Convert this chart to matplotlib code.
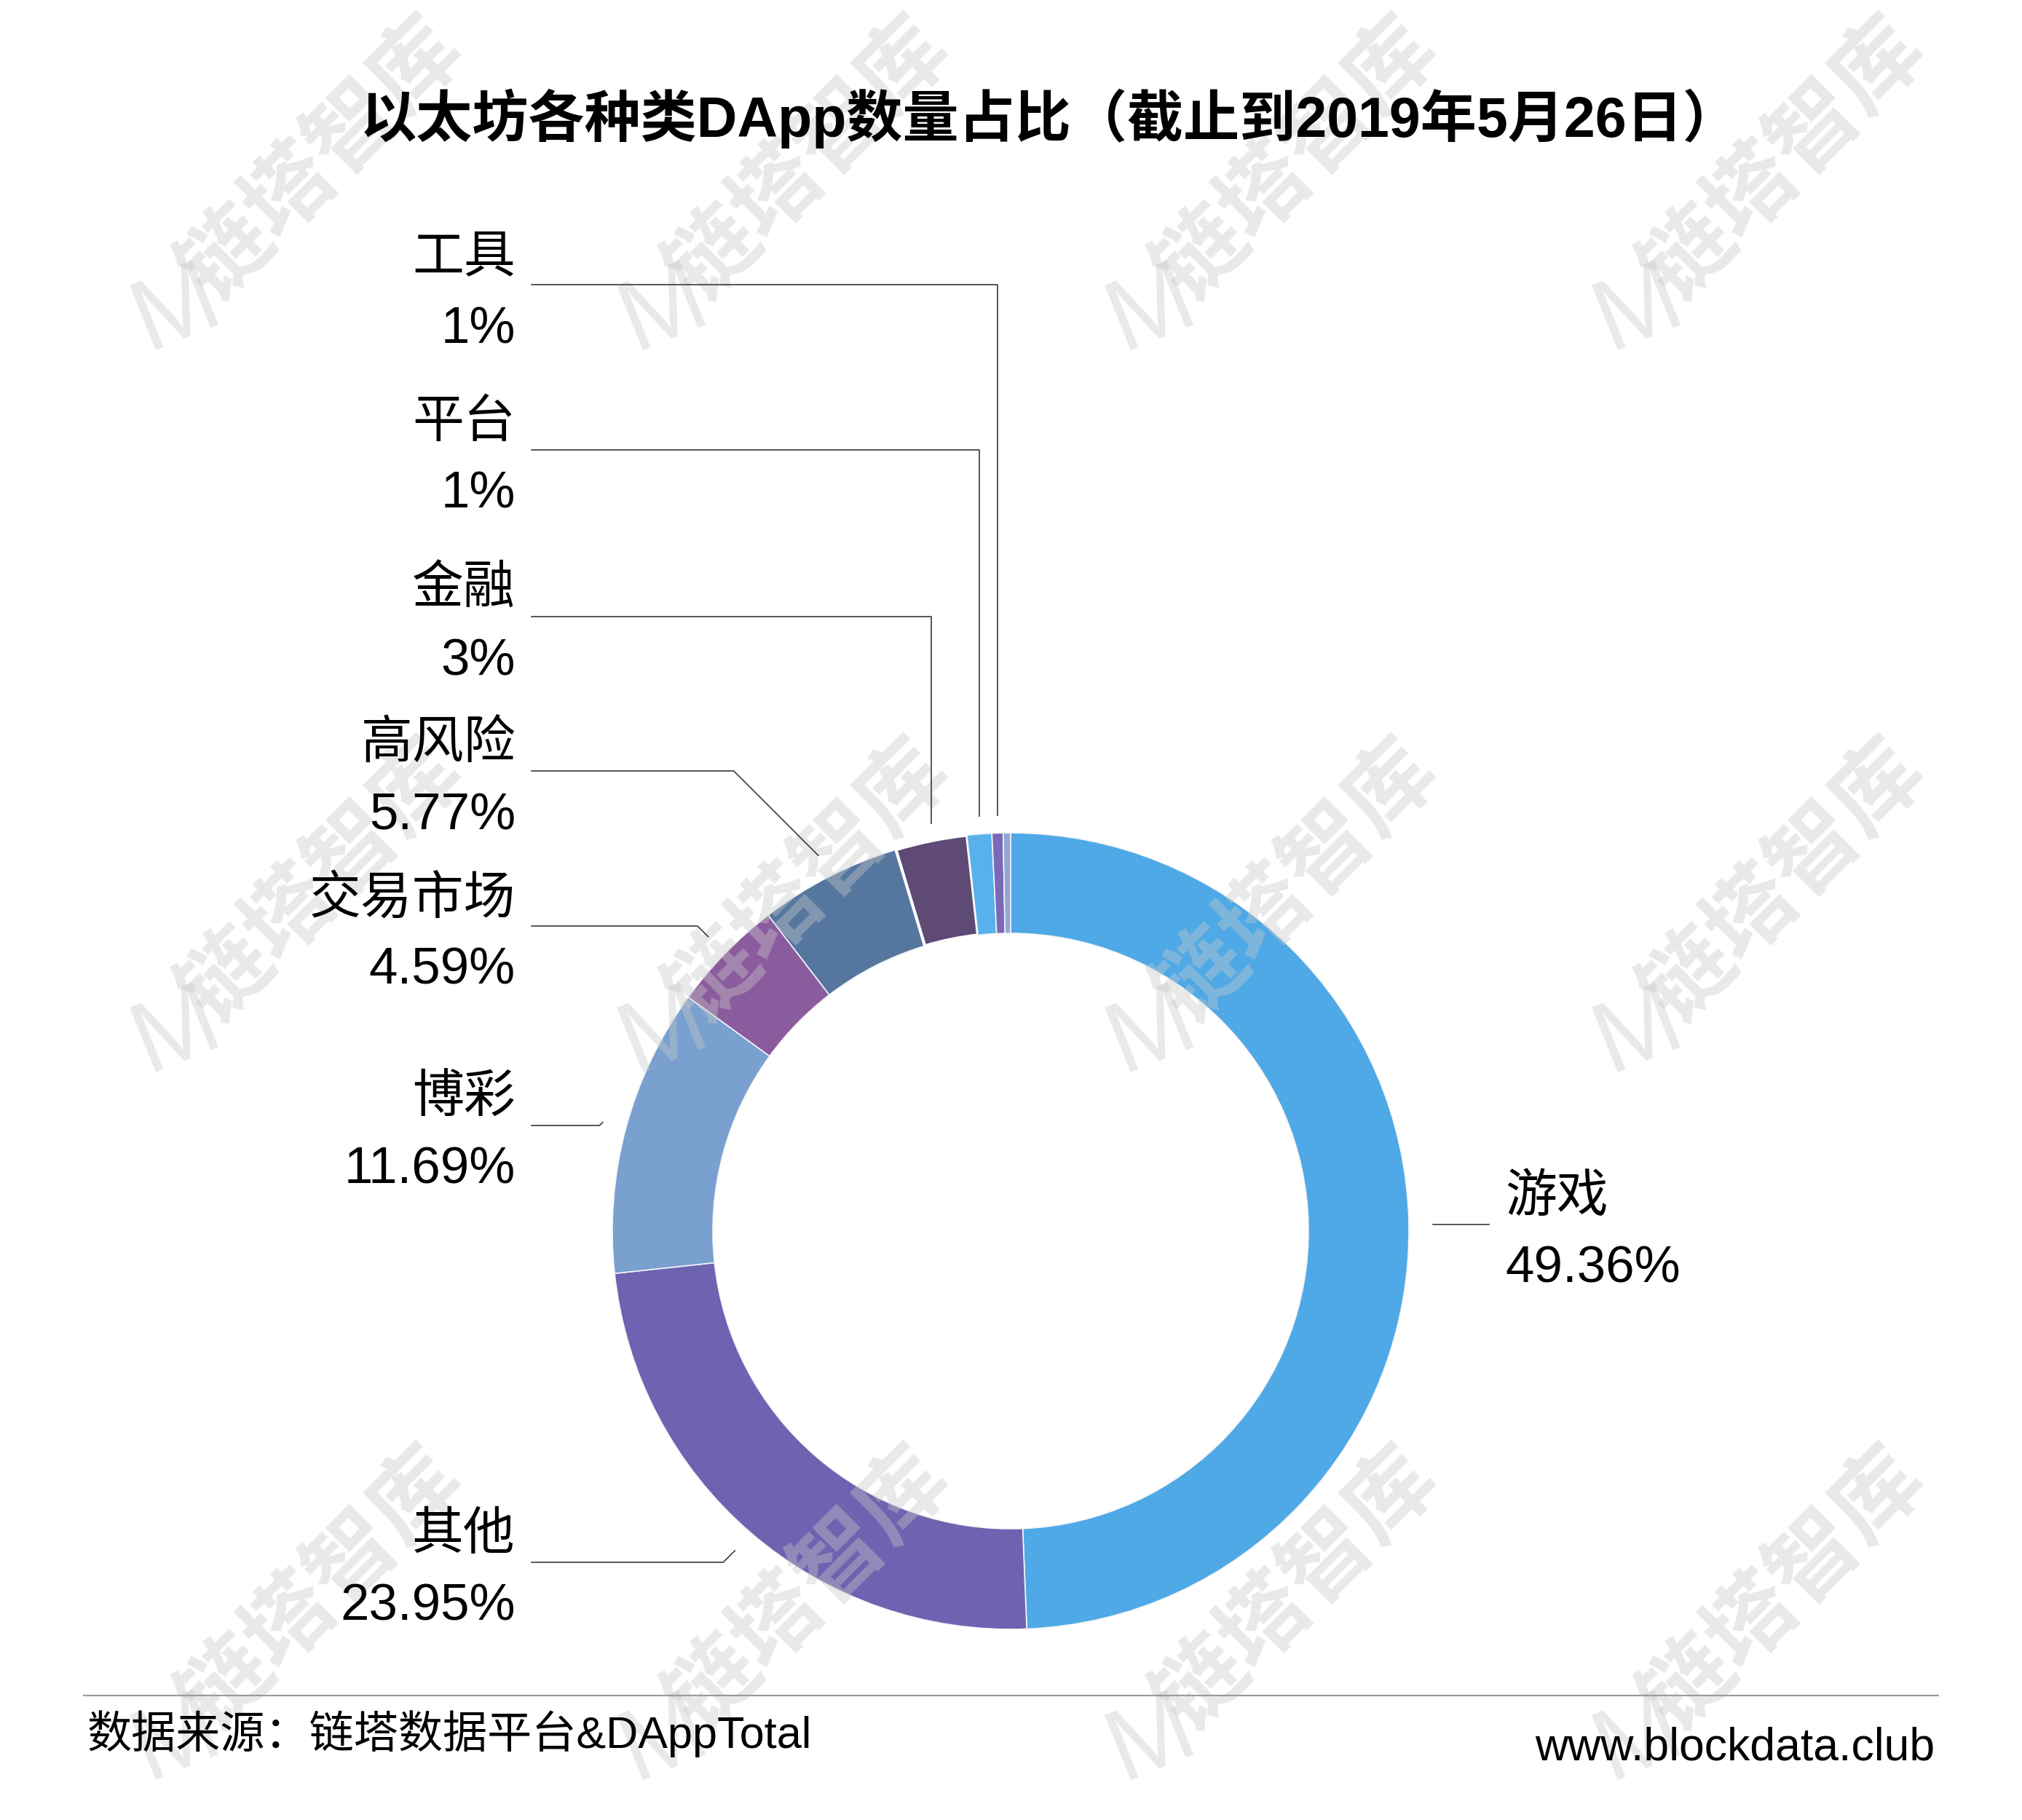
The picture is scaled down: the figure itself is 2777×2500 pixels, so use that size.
import matplotlib
matplotlib.use('Agg')
import matplotlib.pyplot as plt
import numpy as np

# ---------------- data ----------------
title = '以太坊各种类DApp数量占比（截止到2019年5月26日）'
categories = ['游戏', '其他', '博彩', '交易市场', '高风险', '金融', '平台', '工具', '']
shares = [49.36, 23.95, 11.69, 4.59, 5.77, 2.9, 1.0, 0.45, 0.3]
share_labels = ['49.36%', '23.95%', '11.69%', '4.59%', '5.77%', '3%', '1%', '1%', '']
colors = ['#4EA9E6', '#6E63B0', '#79A0CF', '#8B5C9D', '#55779F',
          '#5E4A75', '#58B1EA', '#7A68B9', '#8FA9D2']
source_text = '数据来源：链塔数据平台&DAppTotal'
site_text = 'www.blockdata.club'
watermark_text = '链塔智库'

# ---------------- layout ----------------
W, H = 2777, 2500
FONT = ['Liberation Sans', 'Noto Sans CJK SC', 'DejaVu Sans']
plt.rcParams['font.family'] = FONT

fig = plt.figure(figsize=(W / 100, H / 100), dpi=100)
ax = fig.add_axes([0, 0, 1, 1])

def Y(yd):
    return H - yd

cx, cy, R, ring = 1388, Y(1691), 547, 138

wedges, _ = ax.pie(shares, colors=colors, startangle=90, counterclock=False,
                   center=(cx, cy), radius=R, frame=True,
                   wedgeprops=dict(width=ring, edgecolor='#f4f4f8', linewidth=1.2))
ax.set_xlim(0, W)
ax.set_ylim(0, H)
ax.set_aspect('equal')
ax.axis('off')
wedges[5].set_edgecolor('white')
wedges[5].set_linewidth(3)

# leader lines + labels
line_y = {'游戏': 1682, '其他': 2146, '博彩': 1546, '交易市场': 1272,
          '高风险': 1059, '金融': 847, '平台': 618, '工具': 391}
style = {'游戏': 'right', '其他': 'diag', '博彩': 'diag', '交易市场': 'diag',
         '高风险': 'diag', '金融': 'vert', '平台': 'vert', '工具': 'vert'}
text_right = 708
line_start = 730
lc = '#3a3a3a'
lw = 1.2
fs = 51
dn, dv = 36, -62

for w, name, lab in zip(wedges, categories, share_labels):
    if not name:
        continue
    mid = np.deg2rad((w.theta1 + w.theta2) / 2)
    ly = Y(line_y[name])
    st = style[name]
    if st == 'right':
        ax_x = cx + 1.06 * R * np.cos(mid)
        ax.plot([ax_x, 2045], [ly, ly], color=lc, lw=lw, zorder=4)
        ax.text(2067, ly + dn, name, ha='left', va='center', fontsize=fs, zorder=5)
        ax.text(2067, ly + dv, lab, ha='left', va='center', fontsize=fs, zorder=5)
        continue
    if st == 'vert':
        axx = cx + R * np.cos(mid)
        endy = cy + 1.045 * R * np.sin(mid)
        ax.plot([line_start, axx, axx], [ly, ly, endy], color=lc, lw=lw, zorder=4)
    else:
        axx = cx + 1.06 * R * np.cos(mid)
        axy = cy + 1.06 * R * np.sin(mid)
        elbow = axx - abs(axy - ly)
        ax.plot([line_start, elbow, axx], [ly, ly, axy], color=lc, lw=lw, zorder=4)
    ax.text(text_right, ly + dn, name, ha='right', va='center', fontsize=fs, zorder=5)
    ax.text(text_right, ly + dv, lab, ha='right', va='center', fontsize=fs, zorder=5)

# title
ax.text(1442, Y(163), title, ha='center', va='center', fontsize=55.5,
        fontweight='bold', zorder=5)

# footer
ax.plot([115, 2662], [Y(2329), Y(2329)], color='#9a9a9a', lw=1.5, zorder=4)
ax.text(120, Y(2382), source_text, ha='left', va='center', fontsize=44, zorder=5)
ax.text(2657, Y(2401), site_text, ha='right', va='center', fontsize=45, zorder=5)

# watermark (faint, above the ring, below the texts)
for wy in [221, 1213, 2185]:
    for wx in [443, 1112, 1782, 2451]:
        ax.text(wx, Y(wy), watermark_text, ha='center', va='center', rotation=45,
                fontsize=88, fontweight='bold', color='#c8c8c8', alpha=0.4,
                zorder=3, family=['Noto Sans CJK SC'])
        ax.text(wx - 200, Y(wy + 205), 'M', ha='center', va='center', rotation=22,
                fontsize=100, color='#c8c8c8', alpha=0.4,
                zorder=3, family=['Liberation Sans'])

fig.savefig('out.png', dpi=100, facecolor='white')
